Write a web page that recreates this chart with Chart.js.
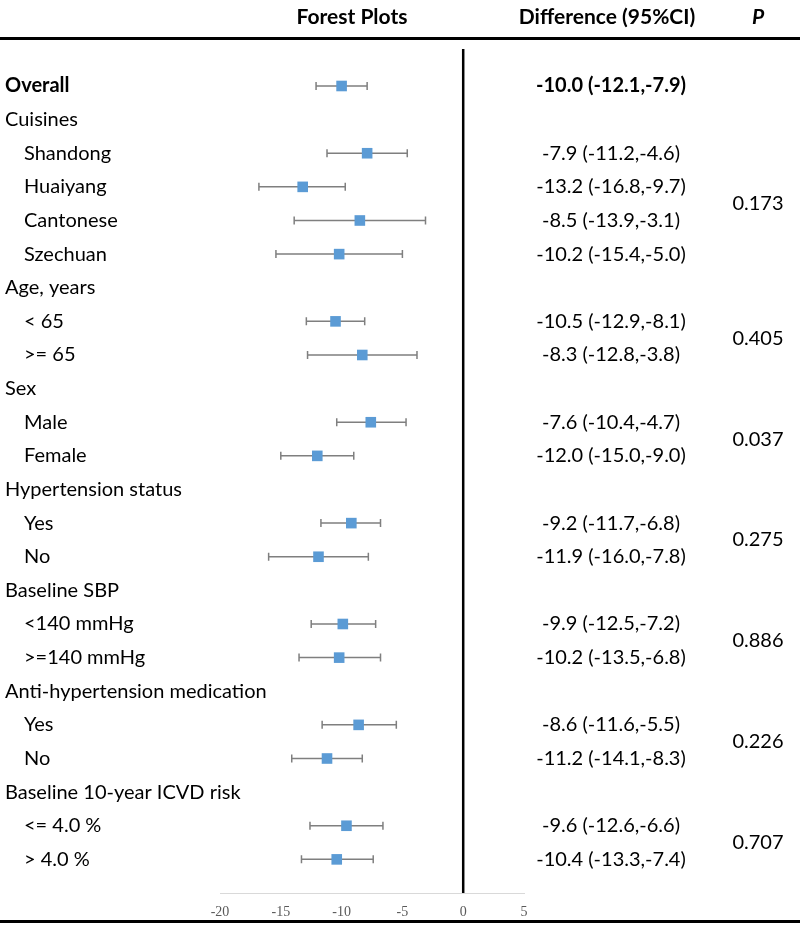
<!DOCTYPE html>
<html>
<head>
<meta charset="utf-8">
<script src="https://cdn.jsdelivr.net/npm/chart.js@4"></script>
<style>
  body { margin: 0; background: #fff; }
  #wrap { width: 800px; height: 926px; }
</style>
</head>
<body>
<div id="wrap"><canvas id="forestChart" width="800" height="926"></canvas></div>
<script>
// rows, top to bottom
const rowLabels = [
  "Overall", "Cuisines", "Shandong", "Huaiyang", "Cantonese", "Szechuan",
  "Age, years", "< 65", ">= 65", "Sex", "Male", "Female",
  "Hypertension status", "Yes", "No", "Baseline SBP", "<140 mmHg", ">=140 mmHg",
  "Anti-hypertension medication", "Yes", "No", "Baseline 10-year ICVD risk", "<= 4.0 %", "> 4.0 %"
];
// 0 = group header, 1 = sub item, 2 = bold overall
const rowKind = [2, 0, 1, 1, 1, 1, 0, 1, 1, 0, 1, 1, 0, 1, 1, 0, 1, 1, 0, 1, 1, 0, 1, 1];
const estimates = [-10.0, null, -7.9, -13.2, -8.5, -10.2, null, -10.5, -8.3, null, -7.6, -12.0,
  null, -9.2, -11.9, null, -9.9, -10.2, null, -8.6, -11.2, null, -9.6, -10.4];
const lower = [-12.1, null, -11.2, -16.8, -13.9, -15.4, null, -12.9, -12.8, null, -10.4, -15.0,
  null, -11.7, -16.0, null, -12.5, -13.5, null, -11.6, -14.1, null, -12.6, -13.3];
const upper = [-7.9, null, -4.6, -9.7, -3.1, -5.0, null, -8.1, -3.8, null, -4.7, -9.0,
  null, -6.8, -7.8, null, -7.2, -6.8, null, -5.5, -8.3, null, -6.6, -7.4];
// p values sit between the rows of their group
const pValues = ["0.173", "0.405", "0.037", "0.275", "0.886", "0.226", "0.707"];
const pRows = [3.5, 7.5, 10.5, 13.5, 16.5, 19.5, 22.5];
const xTicks = [-20, -15, -10, -5, 0, 5];

const fmt = (v) => v.toFixed(1);

const points = [];
estimates.forEach((e, i) => {
  if (e !== null) points.push({ x: e, y: i });
});

// whiskers with caps
const errorBars = {
  id: "errorBars",
  beforeDatasetsDraw(chart) {
    const { ctx, scales: { x, y } } = chart;
    ctx.save();
    ctx.strokeStyle = "#7f7f7f";
    ctx.lineWidth = 1.5;
    lower.forEach((lo, i) => {
      if (lo === null) return;
      const x1 = x.getPixelForValue(lo);
      const x2 = x.getPixelForValue(upper[i]);
      const py = y.getPixelForValue(i);
      ctx.beginPath();
      ctx.moveTo(x1, py); ctx.lineTo(x2, py);
      ctx.moveTo(x1, py - 4); ctx.lineTo(x1, py + 4);
      ctx.moveTo(x2, py - 4); ctx.lineTo(x2, py + 4);
      ctx.stroke();
    });
    ctx.restore();
  },
};

// table text, rules and the zero line
const tableParts = {
  id: "tableParts",
  afterDraw(chart) {
    const { ctx, chartArea, scales: { x, y } } = chart;
    ctx.save();

    // zero line
    ctx.strokeStyle = "#000";
    ctx.lineWidth = 2.5;
    ctx.beginPath();
    ctx.moveTo(x.getPixelForValue(0), chartArea.top);
    ctx.lineTo(x.getPixelForValue(0), chartArea.bottom);
    ctx.stroke();

    // top and bottom rules
    ctx.lineWidth = 3;
    ctx.beginPath();
    ctx.moveTo(0, 38.5); ctx.lineTo(800, 38.5);
    ctx.moveTo(0, 921.5); ctx.lineTo(800, 921.5);
    ctx.stroke();

    ctx.fillStyle = "#000";
    ctx.textBaseline = "middle";

    // headers
    ctx.textAlign = "center";
    ctx.font = "bold 21px Lato";
    ctx.fillText("Forest Plots", 352, 17);
    ctx.fillText("Difference (95%CI)", 607, 17);
    ctx.font = "italic bold 21px Lato";
    ctx.fillText("P", 758, 17);

    rowLabels.forEach((label, i) => {
      const py = y.getPixelForValue(i);
      ctx.textAlign = "left";
      ctx.font = (rowKind[i] === 2 ? "bold " : "") + "20px Lato";
      ctx.fillText(label, rowKind[i] === 1 ? 24 : 5, py);
      if (estimates[i] !== null) {
        ctx.textAlign = "center";
        ctx.fillText(fmt(estimates[i]) + " (" + fmt(lower[i]) + "," + fmt(upper[i]) + ")", 611, py);
      }
    });

    ctx.textAlign = "center";
    ctx.font = "20px Lato";
    pValues.forEach((p, k) => {
      ctx.fillText(p, 758, y.getPixelForValue(pRows[k]));
    });

    ctx.restore();
  },
};

const config = {
  type: "scatter",
  data: {
    datasets: [
      {
        data: points,
        pointStyle: "rect",
        pointRadius: 7.5,
        pointHoverRadius: 7.5,
        backgroundColor: "#5b9bd5",
        borderColor: "#5b9bd5",
        borderWidth: 0,
      },
    ],
  },
  options: {
    responsive: false,
    animation: false,
    events: [],
    layout: { padding: { left: 220, right: 276, top: 49, bottom: 5 } },
    plugins: { legend: { display: false }, tooltip: { enabled: false } },
    scales: {
      x: {
        type: "linear",
        min: -20,
        max: 5,
        afterBuildTicks: (scale) => {
          scale.ticks = xTicks.map((v) => ({ value: v }));
        },
        afterFit: (scale) => {
          scale.height = 28;
        },
        grid: { display: false, drawTicks: false },
        border: { display: true, color: "#d9d9d9", width: 1 },
        ticks: {
          padding: 11,
          color: "#595959",
          font: { family: "Liberation Serif", size: 14 },
          maxRotation: 0,
        },
      },
      y: {
        type: "linear",
        reverse: true,
        min: -1.1,
        max: 24.0,
        display: false,
      },
    },
  },
  plugins: [errorBars, tableParts],
};

const ctx = document.getElementById("forestChart").getContext("2d");
const forestChart = new Chart(ctx, config);
</script>
</body>
</html>
